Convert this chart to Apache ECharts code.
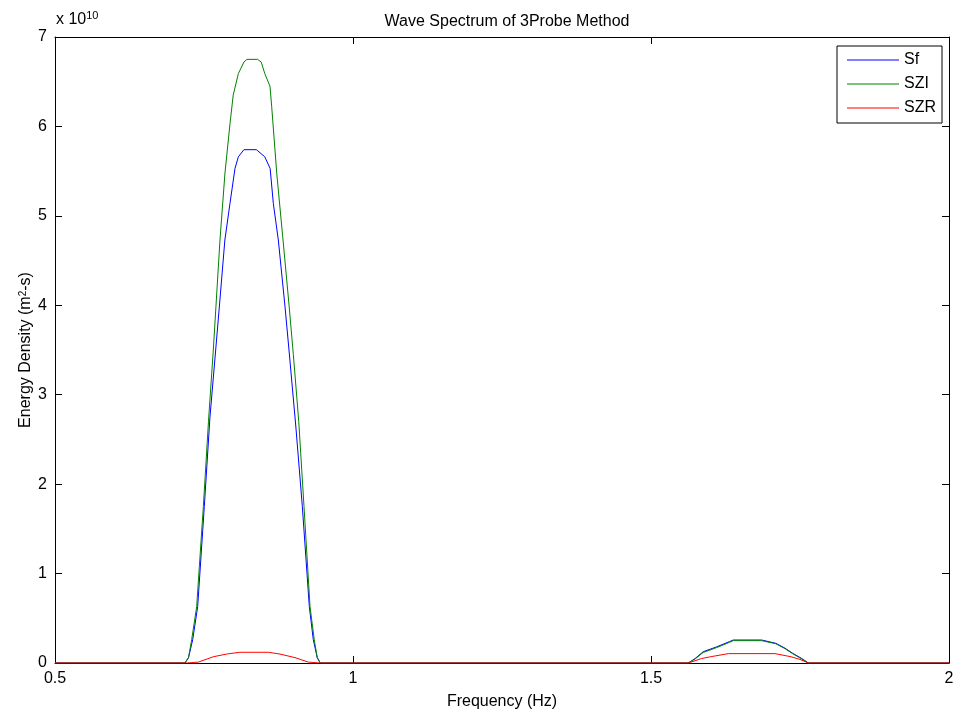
<!DOCTYPE html>
<html>
<head>
<meta charset="utf-8">
<script src="https://cdn.jsdelivr.net/npm/echarts@6/dist/echarts.min.js"></script>
<style>
html,body{margin:0;padding:0;background:#fff;}
#chart{width:960px;height:716px;}
</style>
</head>
<body>
<div id="chart"></div>
<script>
// Frequency (Hz) and energy density (units of 1e10 m^2-s)
var sfFreq = [0.5, 0.718, 0.724, 0.731, 0.7394, 0.7505, 0.760, 0.7696, 0.7757, 0.785, 0.7936, 0.802, 0.8076, 0.817, 0.838, 0.852, 0.861, 0.8663, 0.8747, 0.886, 0.8926, 0.904, 0.915, 0.9267, 0.9334, 0.940, 0.945,
              1.5626, 1.574, 1.5876, 1.610, 1.632, 1.638, 1.6857, 1.7095, 1.725, 1.7374, 1.753, 1.764, 2.0];
var sfVal  = [0, 0, 0.06, 0.26, 0.63, 1.75, 2.75, 3.50, 3.98, 4.73, 5.14, 5.53, 5.66, 5.74, 5.74, 5.66, 5.53, 5.14, 4.73, 3.98, 3.50, 2.65, 1.75, 0.63, 0.26, 0.06, 0,
              0, 0.05, 0.126, 0.18, 0.24, 0.257, 0.257, 0.22, 0.165, 0.11, 0.05, 0, 0];

var sziFreq = [0.5, 0.718, 0.724, 0.7293, 0.7377, 0.7489, 0.7575, 0.7656, 0.770, 0.7768, 0.7852, 0.7936, 0.799, 0.8076, 0.817, 0.822, 0.840, 0.846, 0.852, 0.8607, 0.8636, 0.872, 0.8826, 0.893, 0.8999, 0.909, 0.9178, 0.9279, 0.935, 0.940, 0.945,
               1.5626, 1.574, 1.5876, 1.610, 1.632, 1.638, 1.6857, 1.7095, 1.725, 1.7374, 1.753, 1.764, 2.0];
var sziVal  = [0, 0, 0.06, 0.26, 0.63, 1.75, 2.70, 3.50, 3.98, 4.73, 5.48, 6.03, 6.35, 6.59, 6.72, 6.75, 6.75, 6.72, 6.59, 6.45, 6.22, 5.48, 4.73, 3.98, 3.45, 2.70, 1.75, 0.63, 0.26, 0.06, 0,
               0, 0.045, 0.118, 0.172, 0.232, 0.25, 0.25, 0.215, 0.16, 0.105, 0.045, 0, 0];

var szrFreq = [0.5, 0.721, 0.7405, 0.7656, 0.788, 0.810, 0.858, 0.8775, 0.9027, 0.925, 0.945,
               1.5626, 1.585, 1.600, 1.630, 1.708, 1.735, 1.750, 1.764, 2.0];
var szrVal  = [0, 0, 0.01, 0.07, 0.10, 0.12, 0.12, 0.10, 0.06, 0.01, 0,
               0, 0.05, 0.07, 0.105, 0.105, 0.07, 0.04, 0, 0];

var seriesNames = ['Sf', 'SZI', 'SZR'];
var seriesColors = ['#0000ff', '#008000', '#ff0000'];
var xTicks = [0.5, 1, 1.5, 2];
var yTicks = [0, 1, 2, 3, 4, 5, 6, 7];

function pairs(fs, vs) { return fs.map(function (f, i) { return [f, vs[i]]; }); }
var allData = [pairs(sfFreq, sfVal), pairs(sziFreq, sziVal), pairs(szrFreq, szrVal)];

var FONT = 'Liberation Sans, Arial, sans-serif';
var FS = 16;
var chart = echarts.init(document.getElementById('chart'));
var axisCommon = {
  axisLine: { show: true, onZero: false, lineStyle: { color: '#000', width: 1 } },
  axisTick: { show: true, inside: true, length: 7, lineStyle: { color: '#000' } },
  splitLine: { show: false }
};
chart.setOption({
  animation: false,
  backgroundColor: '#fff',
  title: {
    text: 'Wave Spectrum of 3Probe Method',
    left: 502, top: 9, textAlign: 'center',
    textStyle: { fontFamily: FONT, fontSize: FS, fontWeight: 'normal', color: '#000' }
  },
  grid: { left: 55, right: 11, top: 37, bottom: 53 },
  legend: {
    left: 837, top: 46, orient: 'vertical',
    padding: [6, 6, 7, 10], itemWidth: 52, itemHeight: 16, itemGap: 8,
    borderColor: '#000', borderWidth: 1, backgroundColor: '#fff',
    textStyle: { fontFamily: FONT, fontSize: FS, color: '#000' },
    data: seriesNames.map(function (n) { return { name: n, icon: 'path://M0,0 L50,0 L50,1 L0,1 Z' }; })
  },
  xAxis: [
    Object.assign({
      type: 'value', min: xTicks[0], max: xTicks[xTicks.length - 1], interval: 0.5, position: 'bottom',
      name: 'Frequency (Hz)', nameLocation: 'middle', nameGap: 31, nameMoveOverlap: false,
      nameTextStyle: { fontFamily: FONT, fontSize: FS, color: '#000' },
      axisLabel: { fontFamily: FONT, fontSize: FS, color: '#000', margin: 8 }
    }, axisCommon),
    Object.assign({
      type: 'value', min: xTicks[0], max: xTicks[xTicks.length - 1], interval: 0.5, position: 'top',
      axisLabel: { show: false }
    }, axisCommon)
  ],
  yAxis: [
    Object.assign({
      type: 'value', min: yTicks[0], max: yTicks[yTicks.length - 1], interval: 1, position: 'left',
      name: 'Energy Density (m{sup|2}-s)', nameLocation: 'middle', nameGap: 21, nameRotate: 90,
      nameMoveOverlap: false,
      nameTextStyle: { fontFamily: FONT, fontSize: FS, color: '#000',
        rich: { sup: { fontFamily: FONT, fontSize: 10, verticalAlign: 'top', color: '#000' } } },
      axisLabel: { fontFamily: FONT, fontSize: FS, color: '#000', margin: 8 }
    }, axisCommon),
    Object.assign({
      type: 'value', min: yTicks[0], max: yTicks[yTicks.length - 1], interval: 1, position: 'right',
      axisLabel: { show: false }
    }, axisCommon)
  ],
  graphic: [{
    type: 'text', left: 56, top: 10,
    style: {
      text: 'x 10{s|10}', fontFamily: FONT, fontSize: FS, fill: '#000',
      rich: { s: { fontFamily: FONT, fontSize: 11, verticalAlign: 'top', fill: '#000', padding: [0, 0, 9, 0] } }
    }
  }],
  series: seriesNames.map(function (n, i) {
    return {
      name: n, type: 'line', xAxisIndex: 0, yAxisIndex: 0,
      data: allData[i], symbol: 'none', smooth: false,
      lineStyle: { color: seriesColors[i], width: 1 },
      itemStyle: { color: seriesColors[i] }
    };
  })
});
</script>
</body>
</html>
